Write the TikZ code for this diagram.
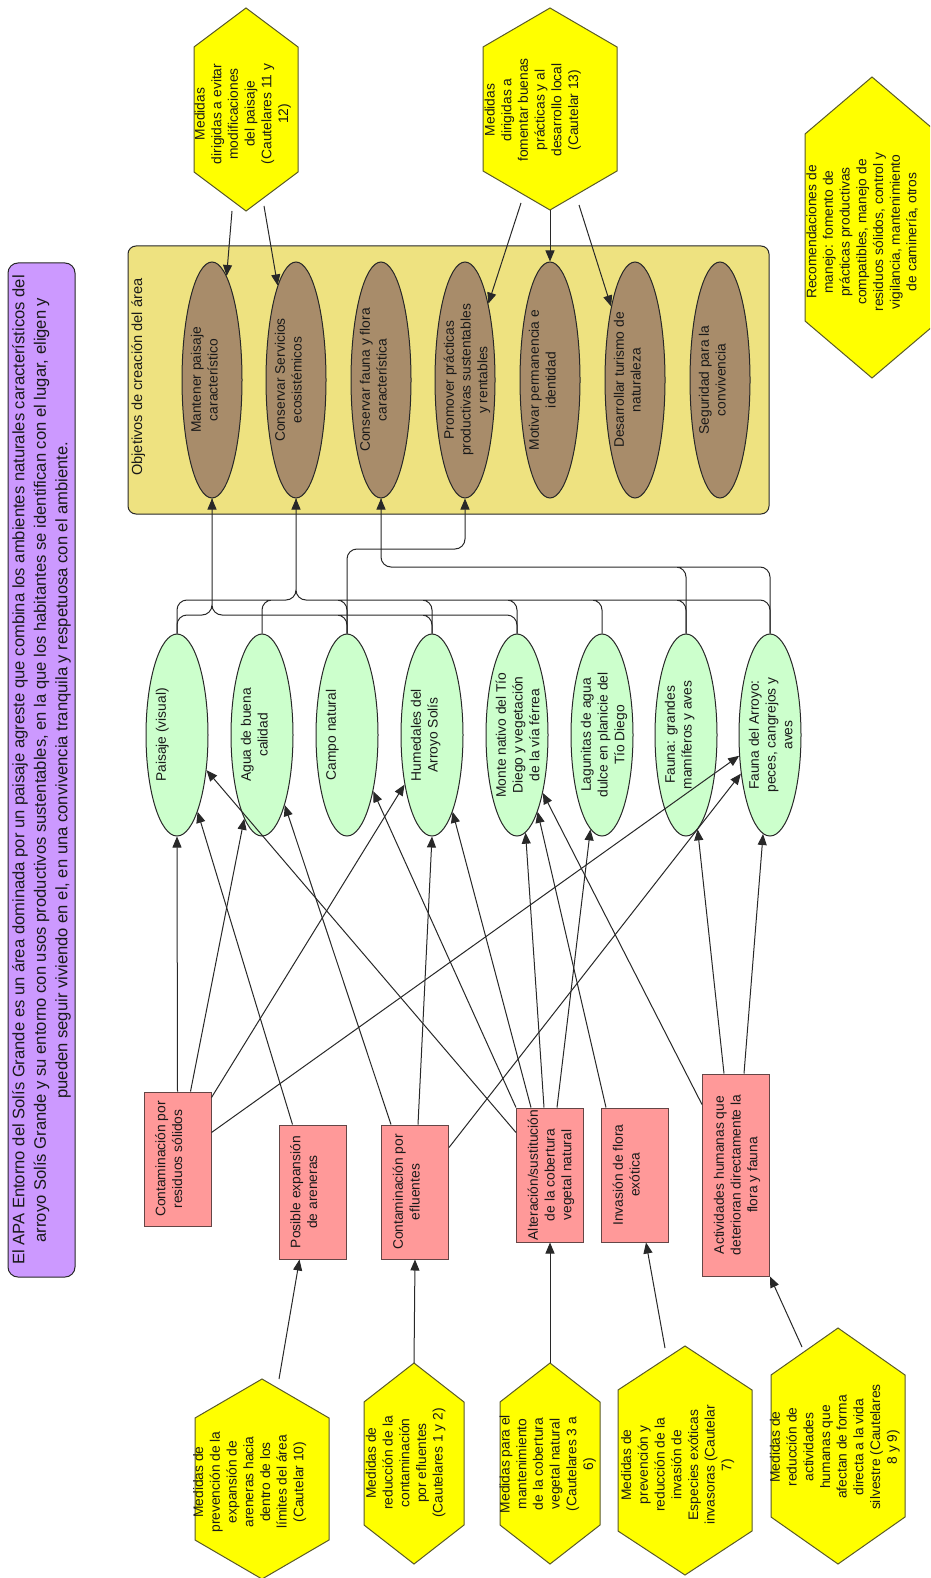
\documentclass[tikz,border=0pt]{standalone}
\usepackage{fontspec}
\setmainfont{Liberation Sans}
\usepackage{graphicx}
\usetikzlibrary{shapes.geometric,arrows.meta,calc}
\definecolor{purplec}{RGB}{204,153,255}
\definecolor{groupc}{RGB}{238,226,128}
\definecolor{brownc}{RGB}{168,140,106}
\definecolor{greenc}{RGB}{204,255,204}
\definecolor{redc}{RGB}{255,153,153}
\definecolor{yellowc}{RGB}{255,255,0}
\definecolor{linec}{RGB}{40,40,40}
\definecolor{redline}{RGB}{100,70,70}
\definecolor{hexline}{RGB}{90,90,40}
\definecolor{txtc}{RGB}{25,25,25}
\newcommand\fs{\fontsize{13.8}{16.7}\selectfont}
\newcommand\fsbig{\fontsize{16.6}{21.5}\selectfont}
\newcommand\fslab{\fontsize{14.6}{17}\selectfont}
\newcommand\rtxt[1]{\rotatebox{90}{\begin{tabular}{@{}c@{}}#1\end{tabular}}}
\newcommand\yhexagon[5]{%
  \path[hexs] (#1,#2) -- ({#1-#4},{#2+#5}) -- ({#1-#4},{#3-#5}) -- (#1,#3)
    -- ({#1+#4},{#3-#5}) -- ({#1+#4},{#2+#5}) -- cycle;}
\tikzset{
  lbl/.style={font=\fs, text=txtc, inner sep=0pt},
  brownell/.style={ellipse, draw=linec, fill=brownc, line width=1pt, minimum width=60pt, minimum height=236pt, inner sep=0pt},
  greenell/.style={ellipse, draw=linec, fill=greenc, line width=1pt, minimum width=62pt, minimum height=202pt, inner sep=0pt},
  redbox/.style={rectangle, draw=redline, fill=redc, line width=1pt, minimum width=67pt, minimum height=134pt, inner sep=0pt},
  hexs/.style={draw=hexline, fill=yellowc, line width=1pt},
  edge/.style={draw=linec, line width=1pt, -{Triangle[length=11pt,width=9pt]}},
  flow/.style={edge, rounded corners=10pt},
}
\begin{document}
\begin{tikzpicture}[x=1pt,y=-1pt]
\useasboundingbox (0,0) rectangle (930,1578);
\fill[white] (0,0) rectangle (930,1578);
\clip (0,0) rectangle (930,1578);

% intro box
\node[draw=linec, fill=purplec, line width=1pt, rounded corners=10pt, minimum width=67pt, minimum height=1014pt, inner sep=0pt, font=\fsbig, text=txtc] (intro) at (41.5,770) {\rtxt{El APA Entorno del Solís Grande es un área dominada por un paisaje agreste que combina los ambientes naturales característicos del\\arroyo Solís Grande y su entorno con usos productivos sustentables, en la que los habitantes se identifican con el lugar, eligen y\\pueden seguir viviendo en el, en una convivencia tranquila y respetuosa con el ambiente.}};

% group of objectives
\node[draw=linec, fill=groupc, line width=1pt, rounded corners=8pt, minimum width=641pt, minimum height=268pt, inner sep=0pt] (grp) at (448.5,380) {};
\node[font=\fslab, text=txtc, rotate=90, anchor=base west, inner sep=0pt] (grplbl) at (142,476) {Objetivos de creación del área};

% brown objectives
\node[brownell] (b1) at (212,380) {};
\node[brownell] (b2) at (296,380) {};
\node[brownell] (b3) at (381,380) {};
\node[brownell] (b4) at (465,380) {};
\node[brownell] (b5) at (550,380) {};
\node[brownell] (b6) at (635,380) {};
\node[brownell] (b7) at (720,380) {};
\node[lbl, anchor=west] (b1t) at (189,380) {\rtxt{Mantener paisaje\\característico}};
\node[lbl, anchor=west] (b2t) at (273,380) {\rtxt{Conservar Servicios\\ecosistémicos}};
\node[lbl, anchor=west] (b3t) at (358,380) {\rtxt{Conservar fauna y flora\\característica}};
\node[lbl, anchor=west] (b4t) at (442,380) {\rtxt{Promover prácticas\\productivas sustentables\\y rentables}};
\node[lbl, anchor=west] (b5t) at (527,380) {\rtxt{Motivar permanencia e\\identidad}};
\node[lbl, anchor=west] (b6t) at (612,380) {\rtxt{Desarrollar turismo de\\naturaleza}};
\node[lbl, anchor=west] (b7t) at (697,380) {\rtxt{Seguridad para la\\convivencia}};

% green values
\node[greenell] (g1) at (177,735) {};
\node[greenell] (g2) at (262,735) {};
\node[greenell] (g3) at (347,735) {};
\node[greenell] (g4) at (432,735) {};
\node[greenell] (g5) at (517,735) {};
\node[greenell] (g6) at (602,735) {};
\node[greenell] (g7) at (686,735) {};
\node[greenell] (g8) at (770,735) {};
\node[lbl, anchor=west] (g1t) at (154,735) {\rtxt{Paisaje (visual)}};
\node[lbl, anchor=west] (g2t) at (239,735) {\rtxt{Agua de buena\\calidad}};
\node[lbl, anchor=west] (g3t) at (324,735) {\rtxt{Campo natural}};
\node[lbl, anchor=west] (g4t) at (409,735) {\rtxt{Humedales del\\Arroyo Solís}};
\node[lbl, anchor=west] (g5t) at (494,735) {\rtxt{Monte nativo del Tío\\Diego y vegetación\\de la vía férrea}};
\node[lbl, anchor=west] (g6t) at (579,735) {\rtxt{Lagunitas de agua\\dulce en planicie del\\Tío Diego}};
\node[lbl, anchor=west] (g7t) at (663,735) {\rtxt{Fauna: grandes\\mamíferos y aves}};
\node[lbl, anchor=west] (g8t) at (747,735) {\rtxt{Fauna del Arroyo:\\peces, cangrejos y\\aves}};

% red threats
\node[redbox] (r1) at (177.5,1159) {};
\node[redbox] (r2) at (312.5,1192) {};
\node[redbox] (r3) at (415,1192) {};
\node[redbox] (r4) at (550,1175) {};
\node[redbox] (r5) at (635,1175) {};
\node[redbox, minimum height=202pt] (r6) at (736,1175) {};
\node[lbl, anchor=west] (r1t) at (153.5,1159) {\rtxt{Contaminación por\\residuos sólidos}};
\node[lbl, anchor=west] (r2t) at (288.5,1192) {\rtxt{Posible expansión\\de areneras}};
\node[lbl, anchor=west] (r3t) at (391,1192) {\rtxt{Contaminación por\\efluentes}};
\node[lbl, anchor=west] (r4t) at (526,1175) {\rtxt{Alteración/sustitución\\de la cobertura\\vegetal natural}};
\node[lbl, anchor=west] (r5t) at (611,1175) {\rtxt{Invasión de flora\\exótica}};
\node[lbl, anchor=west] (r6t) at (712,1175) {\rtxt{Actividades humanas que\\deterioran directamente la\\flora y fauna}};

% yellow measures
\yhexagon{246}{8}{211}{52}{39}
\yhexagon{550}{8}{210}{67}{39}
\yhexagon{872}{77}{378}{67}{57}
\yhexagon{262}{1379}{1579}{67}{39}
\yhexagon{414}{1363}{1564}{50}{39}
\yhexagon{550}{1363}{1564}{50}{39}
\yhexagon{685}{1346}{1575}{67}{44}
\yhexagon{838}{1328}{1564}{67}{47}
\node[lbl] (hA) at (243,114) {\rtxt{Medidas\\dirigidas a evitar\\modificaciones\\del paisaje\\(Cautelares 11 y\\12)}};
\node[lbl] (hB) at (533,110) {\rtxt{Medidas\\dirigidas a\\fomentar buenas\\prácticas y al\\desarrollo local\\(Cautelar 13)}};
\node[lbl] (hR) at (863,232) {\rtxt{Recomendaciones de\\manejo: fomento de\\prácticas productivas\\compatibles, manejo de\\residuos sólidos, control y\\vigilancia, mantenimiento\\de caminería, otros}};
\node[lbl] (h3) at (250,1482) {\rtxt{Medidas de\\prevención de la\\expansión de\\areneras hacia\\dentro de los\\límites del área\\(Cautelar 10)}};
\node[lbl] (h4) at (406,1463) {\rtxt{Medidas de\\reducción de la\\contaminación\\por efluentes\\(Cautelares 1 y 2)}};
\node[lbl] (h5) at (548,1464) {\rtxt{Medidas para el\\mantenimiento\\de la cobertura\\vegetal natural\\(Cautelares 3 a\\6)}};
\node[lbl] (h6) at (678,1465) {\rtxt{Medidas de\\prevención y\\reducción de la\\invasión de\\Especies exóticas\\invasoras (Cautelar\\7)}};
\node[lbl] (h7) at (835,1447) {\rtxt{Medidas de\\reducción de\\actividades\\humanas que\\afectan de forma\\directa a la vida\\silvestre (Cautelares\\8 y 9)}};

% connector start points at hexagons
\coordinate (hAo1) at (232,211);
\coordinate (hAo2) at (264,206);
\coordinate (hBo1) at (521,203);
\coordinate (hBo2) at (550,210);
\coordinate (hBo3) at (579,205);
\coordinate (h3o) at (279,1379);
\coordinate (h4o) at (414,1363);
\coordinate (h5o) at (550,1363);
\coordinate (h6o) at (665,1348);
\coordinate (h7o) at (802,1347);

% measures -> objectives
\draw[edge] (hAo1) -- (b1.82);
\draw[edge] (hAo2) -- (b2.101);
\draw[edge] (hBo1) -- (b4.73);
\draw[edge] (hBo2) -- (b5.north);
\draw[edge] (hBo3) -- (b6.108);

% measures -> threats
\draw[edge] (h3o) -- ($(r2.south west)+(21,0)$);
\draw[edge] (h4o) -- (r3.south);
\draw[edge] (h5o) -- (r4.south);
\draw[edge] (h6o) -- ($(r5.south west)+(45,0)$);
\draw[edge] (h7o) -- (r6.south east);

% values -> objectives (orthogonal, rounded; one stroke per bundle)
\draw[flow]
  (g5.north) -- (g5.north |- 0,615) -- (b1.south |- 0,615) -- (b1.south)
  (g4.north) -- (g4.north |- 0,615) -- (b1.south |- 0,615) -- (b1.south)
  (g3.north) -- (g3.north |- 0,615) -- (b1.south |- 0,615) -- (b1.south)
  (g1.north) -- (g1.north |- 0,615) -- (b1.south |- 0,615) -- (b1.south);
\draw[flow]
  (g8.north) -- (g8.north |- 0,600) -- (b2.south |- 0,600) -- (b2.south)
  (g7.north) -- (g7.north |- 0,600) -- (b2.south |- 0,600) -- (b2.south)
  (g6.north) -- (g6.north |- 0,600) -- (b2.south |- 0,600) -- (b2.south)
  (g5.north) -- (g5.north |- 0,600) -- (b2.south |- 0,600) -- (b2.south)
  (g4.north) -- (g4.north |- 0,600) -- (b2.south |- 0,600) -- (b2.south)
  (g3.north) -- (g3.north |- 0,600) -- (b2.south |- 0,600) -- (b2.south)
  (g1.north) -- (g1.north |- 0,600) -- (b2.south |- 0,600) -- (b2.south)
  (g2.north) -- (g2.north |- 0,600) -- (b2.south |- 0,600) -- (b2.south);
\draw[flow]
  (g8.north) -- (g8.north |- 0,567) -- (b3.south |- 0,567) -- (b3.south)
  (g7.north) -- (g7.north |- 0,567) -- (b3.south |- 0,567) -- (b3.south);
\draw[flow] (g3.north) -- (g3.north |- 0,549) -- (b4.south |- 0,549) -- (b4.south);

% threats -> values
\draw[edge] (r1.north) -- (g1.south);
\draw[edge] ($(r1.north west)+(47,0)$) -- (g2.258);
\draw[edge] ($(r1.north east)+(0,6)$) -- (g4.241);
\draw[edge] ($(r1.north east)+(0,41)$) -- (g8.214);
\draw[edge] ($(r2.north west)+(14,0)$) -- (g1.285);
\draw[edge] ($(r3.north west)+(10,0)$) -- (g2.288);
\draw[edge] ($(r3.north)+(3,0)$) -- (g4.south);
\draw[edge] ($(r3.north east)+(0,23)$) -- (g8.233);
\draw[edge] ($(r4.north west)+(0,25)$) -- (g1.310);
\draw[edge] (r4.north west) -- (g3.295);
\draw[edge] ($(r4.north west)+(15,0)$) -- (g4.285);
\draw[edge] ($(r4.north west)+(28,0)$) -- (g5.275);
\draw[edge] ($(r4.north west)+(41,0)$) -- (g6.263);
\draw[edge] ($(r5.north west)+(5,0)$) -- (g5.285);
\draw[edge] ($(r6.north west)+(0,31)$) -- (g5.294);
\draw[edge] ($(r6.north west)+(22,0)$) -- (g7.277);
\draw[edge] ($(r6.north west)+(42,0)$) -- (g8.266);
\end{tikzpicture}
\end{document}
